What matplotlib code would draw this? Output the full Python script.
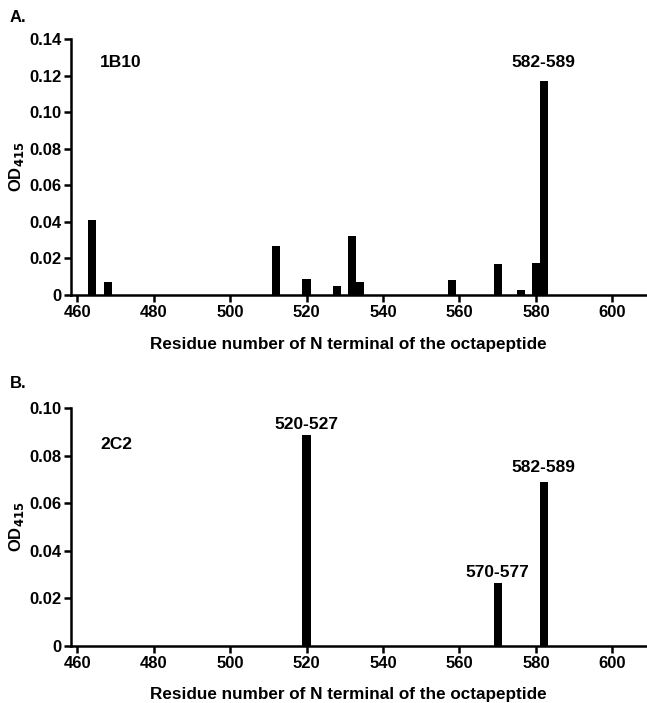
import matplotlib
matplotlib.use("Agg")
import matplotlib.pyplot as plt
from matplotlib.ticker import FuncFormatter

plt.rcParams['font.family'] = ['Liberation Sans', 'DejaVu Sans']
plt.rcParams['font.weight'] = 'bold'

# Panel A (1B10)
a_residues = [464, 468, 512, 520, 528, 532, 534, 558, 570, 576, 580, 582]
a_od = [0.041, 0.0069, 0.0268, 0.0087, 0.0051, 0.032, 0.0069, 0.0082, 0.017, 0.0027, 0.0177, 0.117]
# Panel B (2C2)
b_residues = [520, 570, 582]
b_od = [0.0886, 0.0264, 0.0691]

x_ticks = [460, 480, 500, 520, 540, 560, 580, 600]
a_yticks = [0, 0.02, 0.04, 0.06, 0.08, 0.10, 0.12, 0.14]
b_yticks = [0, 0.02, 0.04, 0.06, 0.08, 0.10]

xlabel = "Residue number of N terminal of the octapeptide"
ylabel = "OD$_{\\mathbf{415}}$"

fig = plt.figure(figsize=(6.47, 7.03), dpi=100)
axA = fig.add_axes([0.1097, 0.5804, 0.890, 0.3642])
axB = fig.add_axes([0.1097, 0.0811, 0.890, 0.3385])

def fmt(v, pos):
    return "0" if abs(v) < 1e-9 else f"{v:.2f}"

for ax, xs, ys, yt, lp in [(axA, a_residues, a_od, a_yticks, 16), (axB, b_residues, b_od, b_yticks, 13)]:
    ax.bar(xs, ys, width=2.1, color='black', linewidth=0)
    ax.set_xlim(458.4, 609)
    ax.set_ylim(0, yt[-1])
    ax.set_xticks(x_ticks)
    ax.set_yticks(yt)
    ax.yaxis.set_major_formatter(FuncFormatter(fmt))
    for s in ['top', 'right']:
        ax.spines[s].set_visible(False)
    for s in ['left', 'bottom']:
        ax.spines[s].set_linewidth(1.8)
    ax.tick_params(axis='both', direction='out', length=5, width=1.8, labelsize=12, pad=2)
    for lbl in ax.get_xticklabels() + ax.get_yticklabels():
        lbl.set_fontweight('bold')
    ax.set_xlabel(xlabel, fontsize=12.3, fontweight='bold', labelpad=lp)
    ax.xaxis.set_label_coords(0.482, ax.xaxis.label.get_position()[1])
    ax.set_ylabel(ylabel, fontsize=12, fontweight='bold', labelpad=2)

axA.xaxis.set_label_coords(0.482, -50 / (0.3642 * 703))
axB.xaxis.set_label_coords(0.482, -49 / (0.3385 * 703))
for ax in (axA, axB):
    ax.xaxis.label.set_va('center')

axA.text(466, 0.127, "1B10", fontsize=12.5, fontweight='bold', ha='left', va='center')
axA.text(582, 0.127, "582-589", fontsize=12.5, fontweight='bold', ha='center', va='center')
axB.text(466, 0.0846, "2C2", fontsize=12.5, fontweight='bold', ha='left', va='center')
axB.text(520, 0.093, "520-527", fontsize=12.5, fontweight='bold', ha='center', va='center')
axB.text(570, 0.0307, "570-577", fontsize=12.5, fontweight='bold', ha='center', va='center')
axB.text(582, 0.075, "582-589", fontsize=12.5, fontweight='bold', ha='center', va='center')

fig.text(10/647, 1 - 18/703, "A.", fontsize=12, fontweight='bold', ha='left', va='center')
fig.text(10/647, 1 - 383/703, "B.", fontsize=12, fontweight='bold', ha='left', va='center')

fig.savefig("out.png", dpi=100)
